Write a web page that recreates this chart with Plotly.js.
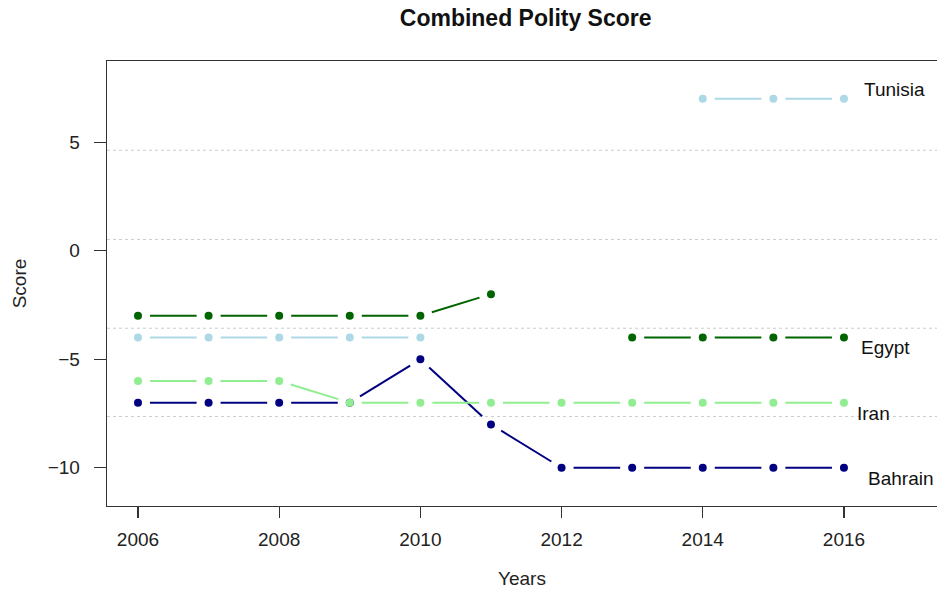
<!DOCTYPE html>
<html>
<head>
<meta charset="utf-8">
<script src="https://cdn.plot.ly/plotly-3.0.1.min.js"></script>
<style>html,body{margin:0;padding:0;background:#fff;}#chart{width:937px;height:591px;}</style>
</head>
<body>
<div id="chart"></div>
<script>
var years = [2006, 2007, 2008, 2009, 2010, 2011, 2012, 2013, 2014, 2015, 2016];
var countries = ["Bahrain", "Egypt", "Tunisia", "Iran"];
var bahrain = [-7, -7, -7, -7, -5, -8, -10, -10, -10, -10, -10];
var egypt   = [-3, -3, -3, -3, -3, -2, null, -4, -4, -4, -4];
var tunisia = [-4, -4, -4, -4, -4, null, null, null, 7, 7, 7];
var iran    = [-6, -6, -6, -7, -7, -7, -7, -7, -7, -7, -7];
var yTicks = [-10, -5, 0, 5];
var xTicks = [2006, 2008, 2010, 2012, 2014, 2016];

var seriesValues = [bahrain, egypt, tunisia, iran];
var colors = ["#000080", "#006400", "#ADD8E6", "#90EE90"];

var W = 937, H = 591;
var M = {l: 107, r: 0, t: 61, b: 85};
var xRange = [2005.561, 2017.318];
var yRange = [-11.76, 8.74];
var pxX = (W - M.l - M.r) / (xRange[1] - xRange[0]);
var pxY = (H - M.t - M.b) / (yRange[1] - yRange[0]);
var GAP = 12;

var traces = [];
seriesValues.forEach(function (vals, k) {
  var sx = [], sy = [];
  for (var i = 0; i < years.length - 1; i++) {
    var y1 = vals[i], y2 = vals[i + 1];
    if (y1 === null || y2 === null) continue;
    var x1 = years[i], x2 = years[i + 1];
    var dx = (x2 - x1) * pxX, dy = (y2 - y1) * pxY;
    var len = Math.sqrt(dx * dx + dy * dy);
    var f = GAP / len;
    sx.push(x1 + f * (x2 - x1), x2 - f * (x2 - x1), null);
    sy.push(y1 + f * (y2 - y1), y2 - f * (y2 - y1), null);
  }
  traces.push({x: sx, y: sy, type: "scatter", mode: "lines", name: countries[k],
    line: {color: colors[k], width: 2}, hoverinfo: "skip", showlegend: false});
});
seriesValues.forEach(function (vals, k) {
  traces.push({x: years, y: vals, type: "scatter", mode: "markers", name: countries[k],
    marker: {color: colors[k], size: 8}, showlegend: false});
});

var labelFont = {family: "Liberation Sans, Arial, sans-serif", size: 19, color: "#111"};
var annotations = [
  {text: "Tunisia", x: 2016.26, y: 7.45},
  {text: "Egypt", x: 2016.22, y: -4.48},
  {text: "Iran", x: 2016.15, y: -7.48},
  {text: "Bahrain", x: 2016.31, y: -10.48}
].map(function (a) {
  return {text: a.text, x: a.x, y: a.y, xref: "x", yref: "y", xanchor: "left", yanchor: "middle",
    showarrow: false, font: labelFont};
});

var gridVals = [4.63, 0.52, -3.57, -7.64];
var shapes = gridVals.map(function (g) {
  return {type: "line", xref: "paper", x0: 0, x1: 1, yref: "y", y0: g, y1: g,
    line: {color: "#cccccc", width: 1, dash: "dot"}, layer: "below"};
});

var axisFont = {family: "Liberation Sans, Arial, sans-serif", size: 19, color: "#222"};
var layout = {
  width: W, height: H,
  margin: M,
  paper_bgcolor: "#fff", plot_bgcolor: "#fff",
  title: {text: "<b>Combined Polity Score</b>", x: 0.561, xanchor: "center",
    y: 1 - 18 / H, yref: "container", yanchor: "middle",
    font: {family: "Liberation Sans, Arial, sans-serif", size: 23, color: "#111"}},
  xaxis: {range: xRange, tickvals: xTicks, ticktext: xTicks.map(String), showgrid: false, zeroline: false,
    showline: true, mirror: true, linecolor: "#333", linewidth: 1.3,
    ticks: "outside", ticklen: 11, tickwidth: 1.3, tickcolor: "#333",
    tickfont: axisFont, ticklabelstandoff: 5,
    title: {text: "Years", font: axisFont, standoff: 22}},
  yaxis: {range: yRange, tickvals: yTicks, ticktext: yTicks.map(function (v) { return v < 0 ? "\u2212" + Math.abs(v) : String(v); }),
    showgrid: false, zeroline: false,
    showline: true, linecolor: "#333", linewidth: 1.3,
    ticks: "outside", ticklen: 12, tickwidth: 1.3, tickcolor: "#333",
    tickfont: axisFont, ticklabelstandoff: 10,
    title: {text: "Score", font: axisFont, standoff: 16}},
  annotations: annotations,
  shapes: shapes,
  showlegend: false
};

Plotly.newPlot("chart", traces, layout, {displayModeBar: false, staticPlot: true});
</script>
</body>
</html>
